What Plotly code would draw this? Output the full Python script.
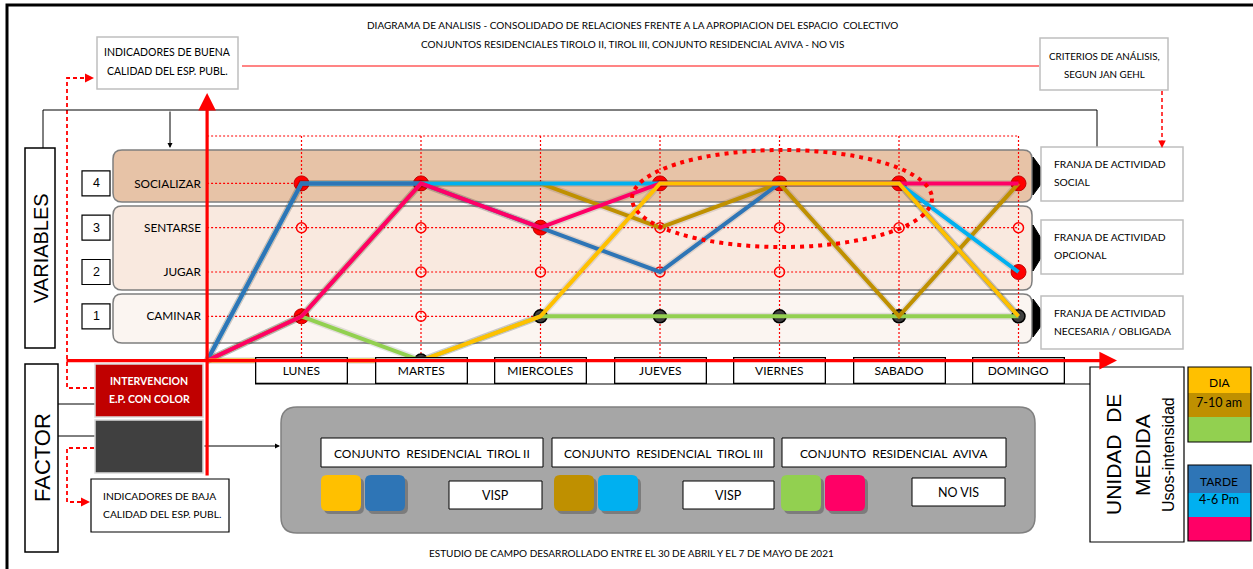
import plotly.graph_objects as go

W, H = 1253, 569

# ---------------------------------------------------------------- data
dias = ["LUNES", "MARTES", "MIERCOLES", "JUEVES", "VIERNES", "SABADO", "DOMINGO"]
niveles = ["CAMINAR", "JUGAR", "SENTARSE", "SOCIALIZAR"]       # levels 1..4
num_niveles = ["1", "2", "3", "4"]
x_origen = 0.21          # crossing point of the two red axes (just before LUNES)

# level reached each day; first value is the origin, then LUNES..DOMINGO
tirol2_dia = [0, 0, 0, 1, 4, 4, 4, 1]
tirol2_tarde = [0, 4, 4, 3, 2, 4, 4, 1]
tirol3_dia = [0, 1, 4, 4, 3, 4, 1, 4]
tirol3_tarde = [0, 4, 4, 4, 4, 4, 4, 2]
aviva_dia = [0, 1, 0, 1, 1, 1, 1, 1]
aviva_tarde = [0, 1, 4, 3, 4, 4, 4, 4]

color_t2_dia = "#FFC000"
color_t2_tarde = "#2E75B6"
color_t3_dia = "#BF9000"
color_t3_tarde = "#00B0F0"
color_av_dia = "#92D050"
color_av_tarde = "#FF0066"

# intersection markers (day index 1 = LUNES, level)
marca_roja_dia = [1, 2, 4, 5, 6, 7, 3, 7, 1]
marca_roja_nivel = [4, 4, 4, 4, 4, 4, 3, 2, 1]
marca_negra_dia = [2, 3, 4, 5, 6, 7]
marca_negra_nivel = [0, 1, 1, 1, 1, 1]
marca_vacia_dia = [1, 2, 4, 5, 6, 7, 2, 3, 4, 5, 2]
marca_vacia_nivel = [3, 3, 3, 3, 3, 3, 2, 2, 2, 2, 1]

# ---------------------------------------------------------------- axis scale
DAY1_PX, PX_PER_DAY = 301.5, 119.5
LEVEL0_PX, PX_PER_LEVEL = 360.6, 44.3
x_range = [1 - DAY1_PX / PX_PER_DAY, 1 + (W - DAY1_PX) / PX_PER_DAY]
y_range = [(LEVEL0_PX - H) / PX_PER_LEVEL, LEVEL0_PX / PX_PER_LEVEL]

NARROW = "Lato, sans-serif"
WIDE = "Liberation Sans, Arial, sans-serif"


def X(p):
    return p / W


def Y(p):
    return 1 - p / H


shapes, annots = [], []


def rect(x0, y0, x1, y1, fill="white", line="black", lw=1.0, layer="below"):
    shapes.append(dict(type="rect", xref="paper", yref="paper",
                       x0=X(x0), x1=X(x1), y0=Y(y1), y1=Y(y0),
                       fillcolor=fill, line=dict(color=line, width=lw), layer=layer))


def rrect(x0, y0, x1, y1, r, fill, line="rgba(0,0,0,0)", lw=1.0, layer="below"):
    p = (f"M {X(x0 + r)},{Y(y0)} L {X(x1 - r)},{Y(y0)} Q {X(x1)},{Y(y0)} {X(x1)},{Y(y0 + r)} "
         f"L {X(x1)},{Y(y1 - r)} Q {X(x1)},{Y(y1)} {X(x1 - r)},{Y(y1)} "
         f"L {X(x0 + r)},{Y(y1)} Q {X(x0)},{Y(y1)} {X(x0)},{Y(y1 - r)} "
         f"L {X(x0)},{Y(y0 + r)} Q {X(x0)},{Y(y0)} {X(x0 + r)},{Y(y0)} Z")
    shapes.append(dict(type="path", xref="paper", yref="paper", path=p,
                       fillcolor=fill, line=dict(color=line, width=lw), layer=layer))


def poly(points, color, lw=1.0, dash="solid", fill=None, layer="below"):
    p = "M " + " L ".join(f"{X(a)},{Y(b)}" for a, b in points)
    if fill:
        p += " Z"
    shapes.append(dict(type="path", xref="paper", yref="paper", path=p,
                       fillcolor=fill if fill else "rgba(0,0,0,0)",
                       line=dict(color=color, width=lw, dash=dash), layer=layer))


def text(x, y, s, size=11.5, color="black", anchor="center", font=NARROW, angle=0):
    annots.append(dict(x=X(x), y=Y(y), xref="paper", yref="paper", text=s,
                       showarrow=False, xanchor=anchor, yanchor="middle", textangle=angle,
                       font=dict(family=font, size=size, color=color)))


def arrow(xt, yt, dx, dy, color, width=1.0, head=2, size=1.0):
    annots.append(dict(x=X(xt), y=Y(yt), xref="paper", yref="paper", text="",
                       showarrow=True, ax=dx, ay=dy, axref="pixel", ayref="pixel",
                       arrowhead=head, arrowsize=size, arrowwidth=width,
                       arrowcolor=color, standoff=0, startstandoff=0))


# ---------------------------------------------------------------- frame + title
poly([(7, 569), (7, 5), (1253, 5)], "black", 3)
text(632, 25, "DIAGRAMA DE ANALISIS - CONSOLIDADO DE RELACIONES FRENTE A LA APROPIACION DEL ESPACIO\u00a0 COLECTIVO", 10)
text(632, 44, "CONJUNTOS RESIDENCIALES TIROLO II, TIROL III, CONJUNTO RESIDENCIAL AVIVA - NO VIS", 10)

# quality indicators / criteria boxes
rect(97, 37, 238, 89, line="#BFBFBF", lw=1.5)
text(167, 52, "INDICADORES DE BUENA", 10.5)
text(167, 71, "CALIDAD DEL ESP. PUBL.", 10.5)
poly([(242, 66), (1039, 66)], "#FF5B5B", 1.5)
rect(1040, 38, 1168, 90, line="#BFBFBF", lw=1.5)
text(1104, 56, "CRITERIOS DE ANÁLISIS,", 9.8)
text(1104, 74, "SEGUN JAN GEHL", 9.8)
poly([(1162, 91), (1162, 140)], "#FF0000", 1.5, dash="4px,3px")
arrow(1162, 148, 0, -9, "#FF0000", 1.5)

# dashed red links on the left
poly([(94, 388), (67, 388), (67, 78), (86, 78)], "#FF0000", 1.8, dash="4px,3px")
arrow(94, 78, -9, 0, "#FF0000", 1.8)
poly([(94, 448), (67, 448), (67, 502), (82, 502)], "#FF0000", 1.8, dash="4px,3px")
arrow(90, 502, -9, 0, "#FF0000", 1.8)

# black connector on top
poly([(43, 148), (43, 110), (1097, 110), (1097, 147)], "black", 1)
arrow(170, 148, 0, -38, "black", 1)

# VARIABLES box
rect(25, 148, 55, 348, lw=1.5)
text(41, 248, "VARIABLES", 20, font=WIDE, angle=-90)

# activity bands
rrect(113, 150, 1032, 202, 9, "#E7C3A7", "#7F7F7F", 1.5)
rrect(113, 206, 1032, 290, 9, "#F9E9DF", "#7F7F7F", 1.5)
rrect(113, 294, 1032, 343, 9, "#FBF5F1", "#7F7F7F", 1.5)
for yc, half in [(176, 19), (248, 23), (318, 19)]:
    poly([(1033, yc - half), (1047, yc), (1033, yc + half)], "black", 1, fill="black")

# level number boxes
for lvl, num in zip(range(1, 5), num_niveles):
    yc = LEVEL0_PX - PX_PER_LEVEL * lvl
    rect(82, yc - 12.5, 110, yc + 12.5, lw=1.2)
    text(96, yc, num, 12.5, font=WIDE)

# red dotted grid
grid = dict(color="#FF0000", width=1.2, dash="2px,2px")
for lvl in range(1, 5):
    shapes.append(dict(type="line", xref="x", yref="y", x0=x_origen, x1=7,
                       y0=lvl, y1=lvl, line=grid, layer="below"))
shapes.append(dict(type="line", xref="x", yref="paper", x0=x_origen, x1=7,
                   y0=Y(136), y1=Y(136), line=grid, layer="below"))
for i in range(1, 8):
    shapes.append(dict(type="line", xref="x", yref="paper", x0=i, x1=i,
                       y0=Y(136), y1=Y(372), line=grid, layer="below"))

# highlight ellipse
shapes.append(dict(type="circle", xref="paper", yref="paper",
                   x0=X(632), x1=X(932), y0=Y(247), y1=Y(150),
                   line=dict(color="#FF0000", width=4, dash="4px,5px"), layer="above"))

# FRANJA boxes
for y0, y1, l1, l2 in [(147, 201, "FRANJA DE ACTIVIDAD", "SOCIAL"),
                       (220, 274, "FRANJA DE ACTIVIDAD", "OPCIONAL"),
                       (296, 349, "FRANJA DE ACTIVIDAD", "NECESARIA / OBLIGADA")]:
    rect(1041, y0, 1183, y1, line="#BFBFBF", lw=1.5)
    text(1052, y0 + 17, l1, 10.3, anchor="left")
    text(1052, y0 + 35, l2, 10.3, anchor="left")

# day boxes and connector
poly([(255, 384), (1090, 384)], "black", 1)
for i, d in enumerate(dias):
    annots.append(dict(x=i + 1, y=Y(384), xref="x", yref="paper", text=d, showarrow=False,
                       width=88, height=22, borderpad=1, bordercolor="black", borderwidth=1.3,
                       bgcolor="white", font=dict(family=NARROW, size=12, color="black")))

# FACTOR column
rect(25, 364, 58, 552, lw=1.5)
text(42, 458, "FACTOR", 22, font=WIDE, angle=-90)
poly([(58, 404), (96, 404)], "black", 1)
poly([(58, 436), (96, 436)], "black", 1)
rect(95, 364, 203, 417, fill="#C00000", line="#D9D9D9", lw=1.5)
text(149, 381, "<b>INTERVENCION</b>", 10.5, color="white")
text(149, 399, "<b>E.P. CON COLOR</b>", 10.5, color="white")
rect(95, 420, 203, 473, fill="#404040", line="#D9D9D9", lw=1.5)
arrow(280, 446, -77, 0, "black", 1)
rect(91, 479, 229, 532, lw=1.2)
text(101, 496, "INDICADORES DE BAJA", 10.3, anchor="left")
text(101, 514, "CALIDAD DEL ESP. PUBL.", 10.3, anchor="left")

# key panel
rrect(281, 407, 1035, 533, 16, "#A6A6A6", "#808080", 1.5)
for x0, x1, lab in [(321, 543, "CONJUNTO\u00a0 RESIDENCIAL\u00a0 TIROL II"),
                    (552, 774, "CONJUNTO\u00a0 RESIDENCIAL\u00a0 TIROL III"),
                    (782, 1006, "CONJUNTO\u00a0 RESIDENCIAL\u00a0 AVIVA")]:
    rect(x0, 438, x1, 467, lw=1)
    text((x0 + x1) / 2, 453, lab, 12)
for x0, col in [(321, color_t2_dia), (365, color_t2_tarde), (554, color_t3_dia),
                (598, color_t3_tarde), (781, color_av_dia), (825, color_av_tarde)]:
    rrect(x0 + 3, 478, x0 + 43, 514, 6, "rgba(0,0,0,0.25)")
    rrect(x0, 475, x0 + 40, 511, 6, col)
for x0, x1, y0, lab in [(449, 542, 481, "VISP"), (683, 774, 481, "VISP"), (912, 1005, 478, "NO VIS")]:
    rect(x0, y0, x1, y0 + 28, lw=1)
    text((x0 + x1) / 2, y0 + 14, lab, 12.5)
text(631, 553, "ESTUDIO DE CAMPO DESARROLLADO ENTRE EL 30 DE ABRIL Y EL 7 DE MAYO DE 2021", 10)

# unit of measure
rect(1090, 367, 1184, 542, lw=1.2)
text(1113, 455, "UNIDAD\u00a0 DE", 21, font=WIDE, angle=-90)
text(1142, 455, "MEDIDA", 21, font=WIDE, angle=-90)
text(1168, 455, "Usos-intensidad", 16, font=WIDE, angle=-90)
rect(1188, 367, 1251, 393, fill=color_t2_dia, line=color_t2_dia, lw=0)
rect(1188, 393, 1251, 417, fill=color_t3_dia, line=color_t3_dia, lw=0)
rect(1188, 417, 1251, 442, fill=color_av_dia, line=color_av_dia, lw=0)
rect(1188, 367, 1251, 442, fill="rgba(0,0,0,0)", lw=1.2)
text(1219, 382, "DIA", 12)
text(1219, 402, "7-10 am", 12.5)
rect(1188, 465, 1251, 493, fill=color_t2_tarde, line=color_t2_tarde, lw=0)
rect(1188, 493, 1251, 517, fill=color_t3_tarde, line=color_t3_tarde, lw=0)
rect(1188, 517, 1251, 541, fill=color_av_tarde, line=color_av_tarde, lw=0)
rect(1188, 465, 1251, 541, fill="rgba(0,0,0,0)", lw=1.2)
text(1219, 481, "TARDE", 12)
text(1219, 499, "4-6 Pm", 12.5)

# red axes
annots.append(dict(x=x_origen, y=Y(93), xref="x", yref="paper", text="", showarrow=True,
                   ax=0, ay=384, axref="pixel", ayref="pixel", arrowhead=2, arrowsize=1.1,
                   arrowwidth=3.2, arrowcolor="#FF0000", standoff=0))
annots.append(dict(x=X(1117), y=0, xref="paper", yref="y", text="", showarrow=True,
                   ax=-1052, ay=0, axref="pixel", ayref="pixel", arrowhead=2, arrowsize=1.1,
                   arrowwidth=3.2, arrowcolor="#FF0000", standoff=0))

# ---------------------------------------------------------------- traces
fig = go.Figure()
xs = [x_origen] + list(range(1, len(dias) + 1))

fig.add_trace(go.Scatter(x=marca_vacia_dia, y=marca_vacia_nivel, mode="markers",
                         marker=dict(symbol="circle-open", size=10, color="#FF0000",
                                     line=dict(width=1.5)), hoverinfo="skip"))
fig.add_trace(go.Scatter(x=marca_roja_dia, y=marca_roja_nivel, mode="markers",
                         marker=dict(size=15, color="#FF0000", line=dict(color="#C00000", width=1)),
                         hoverinfo="skip"))
fig.add_trace(go.Scatter(x=marca_negra_dia, y=marca_negra_nivel, mode="markers",
                         marker=dict(size=13, color="#404040", line=dict(color="black", width=1.5)),
                         hoverinfo="skip"))

series = [
    ("Aviva - día", aviva_dia, color_av_dia),
    ("Tirol III - día", tirol3_dia, color_t3_dia),
    ("Tirol III - tarde", tirol3_tarde, color_t3_tarde),
    ("Tirol II - tarde", tirol2_tarde, color_t2_tarde),
    ("Aviva - tarde", aviva_tarde, color_av_tarde),
    ("Tirol II - día", tirol2_dia, color_t2_dia),
]
for name, vals, col in series:
    fig.add_trace(go.Scatter(x=xs, y=vals, mode="lines", hoverinfo="skip",
                             line=dict(color="rgba(0,0,0,0.10)", width=7)))
for name, vals, col in series:
    fig.add_trace(go.Scatter(x=xs, y=vals, mode="lines", name=name,
                             line=dict(color=col, width=4)))

fig.update_layout(
    width=W, height=H, margin=dict(l=0, r=0, t=0, b=0),
    paper_bgcolor="white", plot_bgcolor="rgba(0,0,0,0)", showlegend=False,
    shapes=shapes, annotations=annots,
    xaxis=dict(range=x_range, visible=False, fixedrange=True),
    yaxis=dict(range=y_range, anchor="free", position=X(207), tickmode="array",
               tickvals=[1, 2, 3, 4], ticktext=niveles, showgrid=False, zeroline=False,
               showline=False, ticks="", ticklabelstandoff=6, fixedrange=True,
               tickfont=dict(family=NARROW, size=11.8, color="black")),
)
fig.write_html("out.html")
